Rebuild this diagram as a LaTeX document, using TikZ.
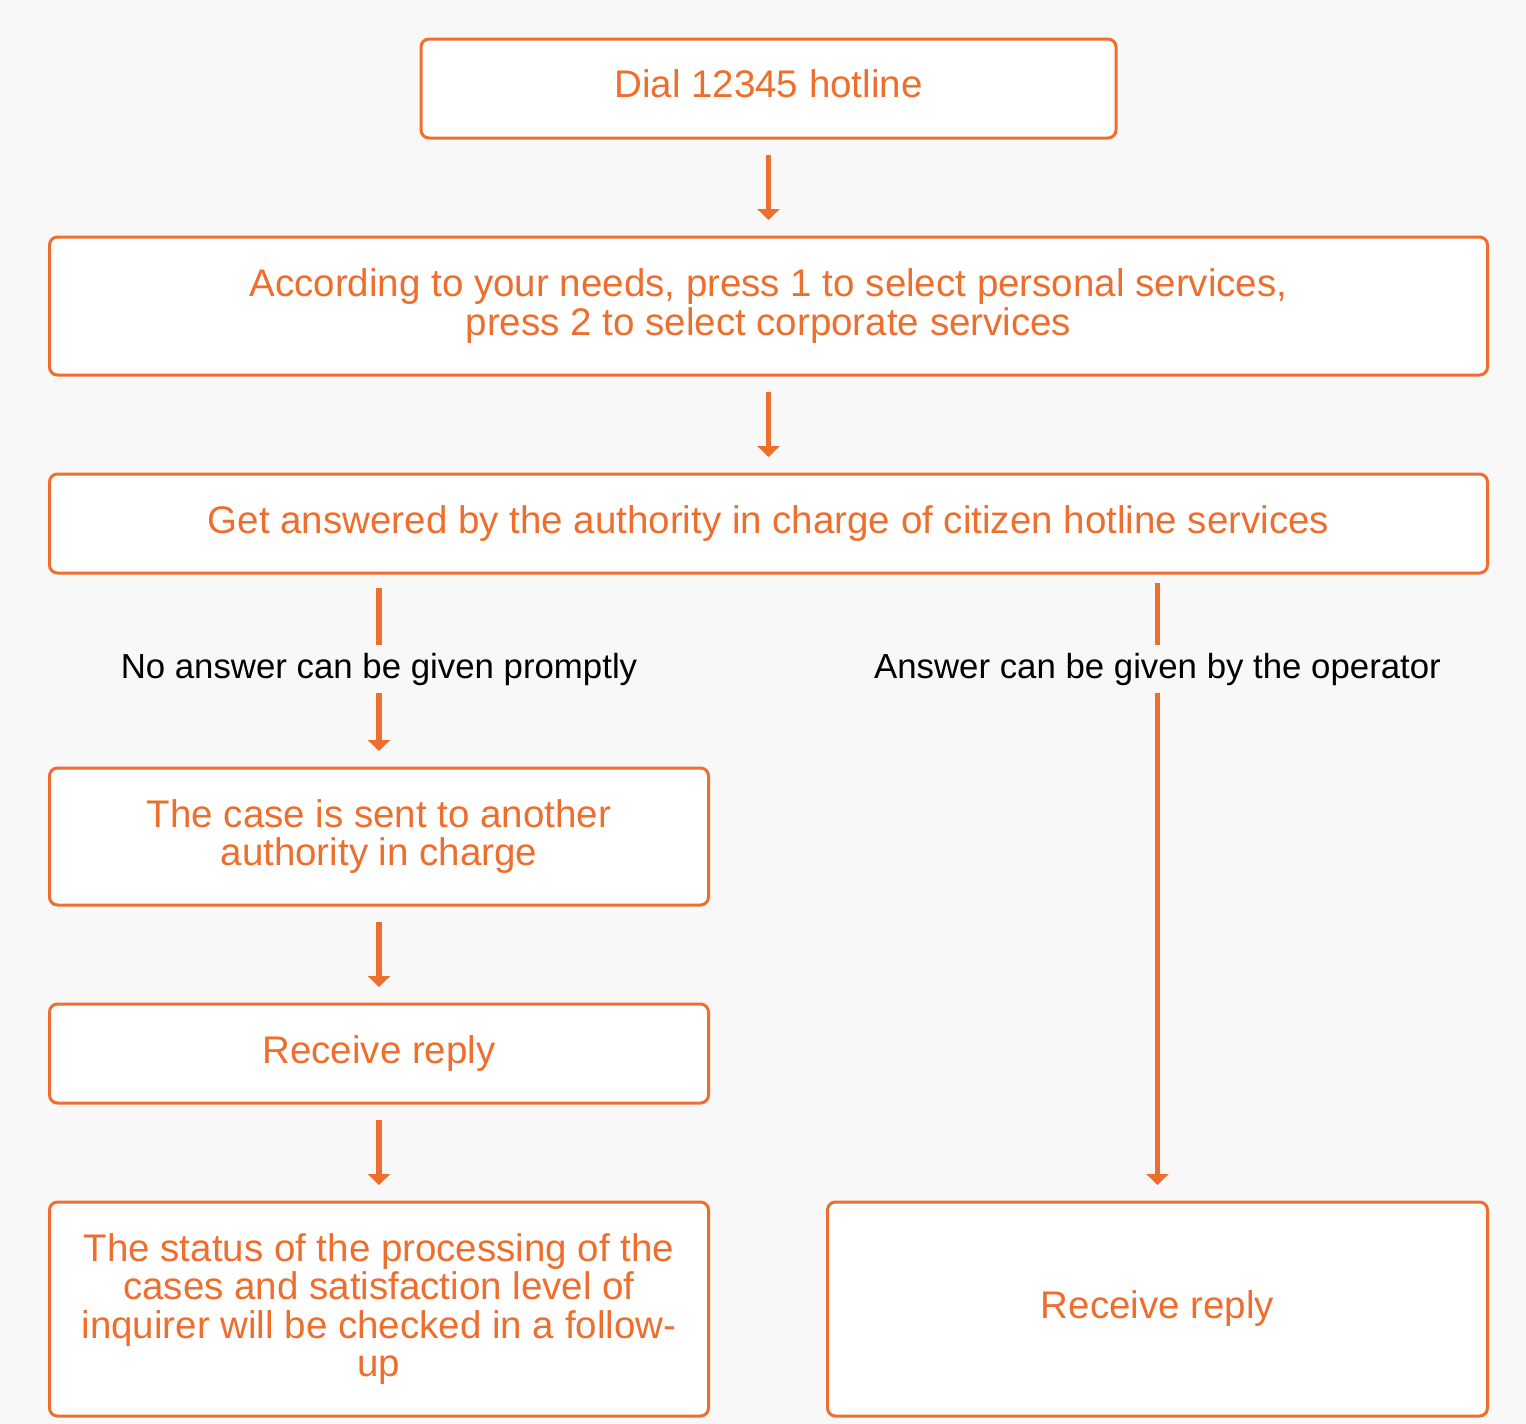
\documentclass[tikz,border=0pt]{standalone}
\usepackage{fontspec}
\setmainfont{Liberation Sans}
\usetikzlibrary{arrows.meta,positioning,calc}
\definecolor{hotorange}{HTML}{EE6E2D}
\definecolor{pagegrey}{HTML}{F8F8F8}
\tikzset{
  stepbox/.style={rounded corners=4pt, draw=hotorange, fill=white, line width=1.5pt, align=center, text=hotorange, font=\fontsize{19.25}{19.25}\selectfont, inner sep=2pt},
  branchlabel/.style={text=black, font=\fontsize{17.4}{20}\selectfont, inner xsep=2pt, inner ysep=3.5pt},
  flow/.style={-{Triangle[width=11pt,length=5.5pt]}, line width=2.75pt, draw=hotorange, shorten <=7.75pt, shorten >=7.75pt},
  flowline/.style={line width=2.75pt, draw=hotorange}
}
\begin{document}
\begin{tikzpicture}[node distance=48pt]
  \fill[pagegrey] (0,0) rectangle (763pt,-712pt);
  \useasboundingbox (0,0) rectangle (763pt,-712pt);
  % main column
  \node[stepbox, text depth=4.5pt, minimum width=347.5pt, minimum height=49.5pt] (dial) at (384.25pt,-44.25pt) {Dial 12345 hotline};
  \node[stepbox, below=of dial, minimum width=719pt, minimum height=69pt] (menu) {According to your needs, press 1 to select personal services,\\press 2 to select corporate services};
  \node[stepbox, below=of menu, minimum width=719pt, minimum height=49.5pt] (answer) {Get answered by the authority in charge of citizen hotline services};
  % left branch
  \node[stepbox, below=96pt of answer.south west, anchor=north west, minimum width=329.5pt, minimum height=68.5pt] (transfer) {The case is sent to another\\authority in charge};
  \node[stepbox, below=of transfer, minimum width=329.5pt, minimum height=49.5pt] (replyA) {Receive reply};
  \node[stepbox, below=of replyA, minimum width=329.5pt, minimum height=107pt] (followup) {The status of the processing of the\\cases and satisfaction level of\\inquirer will be checked in a follow-\\up};
  % right branch
  \node[stepbox, right=58pt of followup, minimum width=330pt, minimum height=107pt] (replyB) {Receive reply};
  \node[branchlabel] (nolab) at ([yshift=-47.25pt]answer.south -| transfer) {No answer can be given promptly};
  \node[branchlabel] (yeslab) at ([yshift=-47.25pt]answer.south -| replyB) {Answer can be given by the operator};
  \draw[flow] (dial) -- (menu);
  \draw[flow] (menu) -- (answer);
  \draw[flowline, shorten <=6.75pt] (answer.south -| nolab) -- (nolab.north);
  \draw[flow, shorten <=0pt] (nolab.south) -- (transfer.north);
  \draw[flowline, shorten <=4.25pt] (answer.south -| yeslab) -- (yeslab.north);
  \draw[flow, shorten <=0pt] (yeslab.south) -- (replyB.north);
  \draw[flow] (transfer) -- (replyA);
  \draw[flow] (replyA) -- (followup);
\end{tikzpicture}
\end{document}
